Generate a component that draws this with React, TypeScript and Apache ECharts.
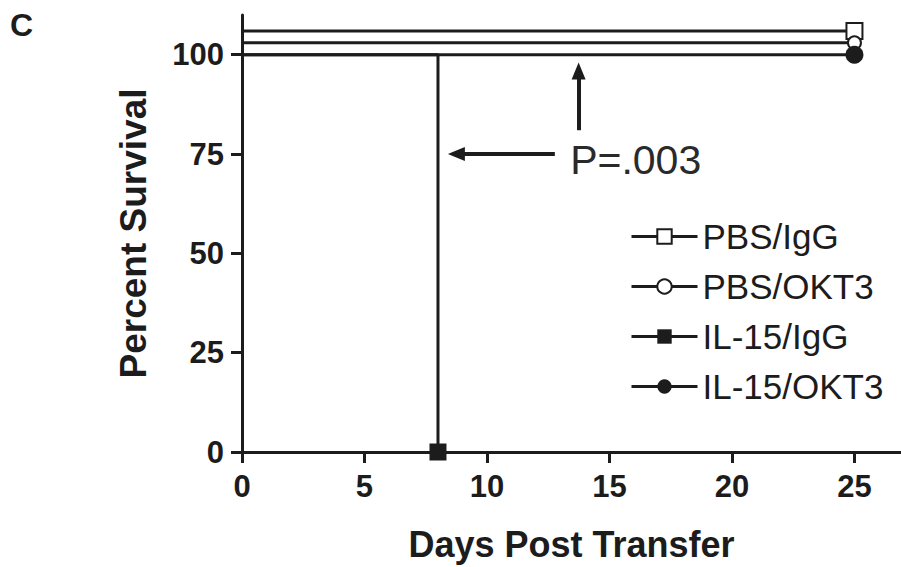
import React, { useEffect, useRef } from "react";
import * as echarts from "echarts";

const seriesNames = ["PBS/IgG", "PBS/OKT3", "IL-15/IgG", "IL-15/OKT3"];
const pbsIgG: number[][] = [[0, 106], [25, 106]];
const pbsOKT3: number[][] = [[0, 103], [25, 103]];
const il15IgG: number[][] = [[0, 100], [8, 100], [8, 0]];
const il15OKT3: number[][] = [[0, 100], [25, 100]];
const xTicks = [0, 5, 10, 15, 20, 25];
const yTicks = [0, 25, 50, 75, 100];
const pText = "P=.003";
const pTextPos = [16.07, 73.4];
const arrowUp = [[13.74, 81], [13.74, 95.9]];
const arrowLeft = [[12.77, 75], [8.75, 75]];

const INK = "#1c1c1c";
const FONT = "'Liberation Sans', Arial, Helvetica, sans-serif";

function mk(data: number[][]) {
  return data.map((d, i) => (i === data.length - 1 ? { value: d } : { value: d, symbol: "none" }));
}

export default function App() {
  const ref = useRef<HTMLDivElement>(null);
  useEffect(() => {
    if (!ref.current) return;
    const chart = echarts.init(ref.current, undefined, { renderer: "svg" });
    const lineStyle = { color: INK, width: 3 };
    const arrowLine = {
      silent: true,
      symbol: ["none", "triangle"],
      symbolSize: [14, 17],
      lineStyle: { color: INK, width: 4, type: "solid" },
      label: { show: false },
      emphasis: { disabled: true },
    };
    chart.setOption({
      animation: false,
      backgroundColor: "#ffffff",
      textStyle: { fontFamily: FONT },
      grid: { left: 242, right: 0, top: 15, bottom: 109, containLabel: false },
      xAxis: {
        type: "value",
        min: 0,
        max: 26.9,
        interval: 5,
        name: "Days Post Transfer",
        nameLocation: "middle",
        nameGap: 74,
        nameTextStyle: { fontSize: 36, fontWeight: "bold", color: INK, fontFamily: FONT },
        axisLine: { show: true, lineStyle: { color: INK, width: 3 } },
        axisTick: { show: true, length: 11, lineStyle: { color: INK, width: 3 }, customValues: xTicks },
        axisLabel: { fontSize: 31, fontWeight: "bold", color: INK, margin: 19, fontFamily: FONT, customValues: xTicks },
        splitLine: { show: false },
      },
      yAxis: {
        type: "value",
        min: 0,
        max: 110,
        interval: 25,
        name: "Percent Survival",
        nameLocation: "middle",
        nameRotate: 90,
        nameGap: 90,
        nameTextStyle: { fontSize: 37, fontWeight: "bold", color: INK, fontFamily: FONT },
        axisLine: { show: true, lineStyle: { color: INK, width: 3 } },
        axisTick: { show: true, length: 11, lineStyle: { color: INK, width: 3 }, customValues: yTicks },
        axisLabel: { fontSize: 31, fontWeight: "bold", color: INK, margin: 18, fontFamily: FONT, customValues: yTicks },
        splitLine: { show: false },
      },
      legend: {
        orient: "vertical",
        left: 630,
        top: 219,
        padding: 0,
        itemWidth: 66,
        itemHeight: 18,
        itemGap: 15,
        data: seriesNames,
        lineStyle: { width: 3, color: INK },
        itemStyle: { borderWidth: 3 },
        textStyle: { fontSize: 35, color: INK, fontFamily: FONT, lineHeight: 35, padding: [0, 0, 0, 0] },
      },
      series: [
        {
          name: seriesNames[0],
          type: "line",
          data: mk(pbsIgG),
          symbol: "emptyRect",
          symbolSize: 16,
          lineStyle,
          itemStyle: { color: INK, borderWidth: 3 },
          z: 3,
        },
        {
          name: seriesNames[1],
          type: "line",
          data: mk(pbsOKT3),
          symbol: "emptyCircle",
          symbolSize: 13,
          lineStyle,
          itemStyle: { color: INK, borderWidth: 3 },
          z: 4,
        },
        {
          name: seriesNames[2],
          type: "line",
          data: mk(il15IgG),
          symbol: "rect",
          symbolSize: 17,
          lineStyle,
          itemStyle: { color: INK },
          z: 5,
          markLine: {
            ...arrowLine,
            data: [
              [{ coord: arrowUp[0] }, { coord: arrowUp[1] }],
              [{ coord: arrowLeft[0] }, { coord: arrowLeft[1] }],
            ],
          },
        },
        {
          name: seriesNames[3],
          type: "line",
          data: mk(il15OKT3),
          symbol: "circle",
          symbolSize: 18,
          lineStyle,
          itemStyle: { color: INK },
          z: 6,
        },
      ],
    });
    const p = chart.convertToPixel({ gridIndex: 0 }, pTextPos) as number[];
    chart.setOption({
      graphic: [
        {
          type: "text",
          left: 10,
          top: 9,
          style: { text: "C", fontSize: 32, fontWeight: "bold", fill: INK, fontFamily: FONT },
        },
        {
          type: "text",
          x: p[0],
          y: p[1],
          style: {
            text: pText,
            fontSize: 41,
            fill: "#2a2a2a",
            fontFamily: FONT,
            align: "center",
            verticalAlign: "middle",
          },
        },
      ],
    });
    return () => chart.dispose();
  }, []);
  return (
    <div
      ref={ref}
      style={{ position: "fixed", left: 0, top: 0, width: 901, height: 567, background: "#fff" }}
    />
  );
}
